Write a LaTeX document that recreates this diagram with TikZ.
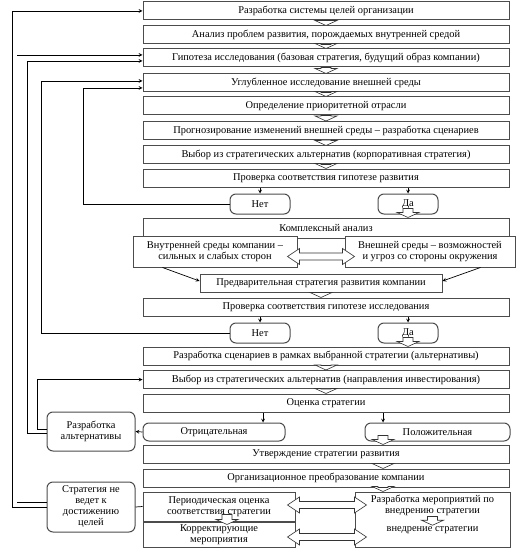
\documentclass[tikz,border=0pt]{standalone}
\usepackage{fontspec}
\setmainfont{Liberation Serif}
\usetikzlibrary{calc}

\newcommand{\tekst}{\fontsize{10.4}{11}\selectfont}
% полая стрелка вниз: от точки #1 до точки #2
\newcommand{\vstr}[2]{%
  \draw[polaja] let \p1=(#1), \p2=(#2) in
    (\x1-5pt,\y1) -- (\x1+5pt,\y1) -- (\x1+5pt,\y2+5pt) -- (\x1+11pt,\y2+5pt)
    -- (\x1,\y2) -- (\x1-11pt,\y2+5pt) -- (\x1-5pt,\y2+5pt) -- cycle;}
% полая двусторонняя стрелка: от точки #1 до точки #2
\newcommand{\hstr}[2]{%
  \draw[polaja] let \p1=(#1), \p2=(#2) in
    (\x1,\y1) -- (\x1+12pt,\y1+8pt) -- (\x1+12pt,\y1+3.5pt) -- (\x2-12pt,\y1+3.5pt)
    -- (\x2-12pt,\y1+8pt) -- (\x2,\y1) -- (\x2-12pt,\y1-8pt) -- (\x2-12pt,\y1-3.5pt)
    -- (\x1+12pt,\y1-3.5pt) -- (\x1+12pt,\y1-8pt) -- cycle;}

\begin{document}
\begin{tikzpicture}[x=1pt,y=-1pt,>=stealth,
  blok/.style={draw=black!70,line width=1pt,fill=white,minimum width=366pt,
    minimum height=18pt,inner sep=1pt,font=\tekst,align=center},
  kruglyj/.style={blok,rounded corners=6pt},
  danet/.style={kruglyj,minimum width=60pt,minimum height=20pt},
  svjaz/.style={line width=0.7pt},
  polaja/.style={draw=black!80,line width=0.6pt,fill=white}]
\useasboundingbox (0,0) rectangle (520,556);
% основная цепочка этапов
\node[blok] (b1) at (326,11) {Разработка системы целей организации};
\node[blok] (b2) at (326,35) {Анализ проблем развития, порождаемых внутренней средой};
\node[blok] (b3) at (326,58) {Гипотеза исследования (базовая стратегия, будущий образ компании)};
\node[blok] (b4) at (326,83) {Углубленное исследование внешней среды};
\node[blok] (b5) at (326,106) {Определение приоритетной отрасли};
\node[blok] (b6) at (326,130.5) {Прогнозирование изменений внешней среды – разработка сценариев};
\node[blok] (b7) at (326,155) {Выбор из стратегических альтернатив (корпоративная стратегия)};
\node[blok] (b8) at (326,178) {Проверка соответствия гипотезе развития};
\node[danet] (net1) at (260,204) {Нет};
\node[danet] (da1) at (408,204) {Да};
% комплексный анализ
\node[blok,minimum height=20pt] (kompl) at (326,228) {Комплексный анализ};
\node[blok,minimum width=164pt,minimum height=31pt] (vnutr) at (215,251.5) {Внутренней среды компании –\\сильных и слабых сторон};
\node[blok,minimum width=170pt,minimum height=31pt] (vnesh) at (430,251.5) {Внешней среды – возможностей\\и угроз со стороны окружения};
\node[blok,minimum width=242pt] (prelim) at (321,283) {Предварительная стратегия развития компании};
\node[blok] (prov) at (326,307) {Проверка соответствия гипотезе исследования};
\node[danet] (net2) at (260,333) {Нет};
\node[danet] (da2) at (408,333) {Да};
% сценарии и оценка
\node[blok] (scen) at (326,356) {Разработка сценариев в рамках выбранной стратегии (альтернативы)};
\node[blok] (invest) at (326,379.5) {Выбор из стратегических альтернатив (направления инвестирования)};
\node[blok] (ocenka) at (326,403) {Оценка стратегии};
\node[kruglyj,minimum width=142pt] (otr) at (214,432) {Отрицательная};
\node[kruglyj,minimum width=145pt] (pol) at (437.5,432) {Положительная};
\node[kruglyj,minimum width=88pt,minimum height=39pt] (razalt) at (91,431.5) {Разработка\\альтернативы};
\node[blok] (utv) at (326,454) {Утверждение стратегии развития};
\node[blok] (org) at (326,478) {Организационное преобразование компании};
% внедрение и контроль
\node[kruglyj,minimum width=88pt,minimum height=50pt] (ne) at (91,507) {Стратегия не\\ведет к\\достижению\\целей};
\node[blok,minimum width=152pt,minimum height=29pt] (period) at (219,506.5) {Периодическая оценка\\соответствия стратегии};
\node[blok,minimum width=152pt,minimum height=25pt] (korr) at (219,534.5) {Корректирующие\\мероприятия};
\node[blok,minimum width=155pt,minimum height=55pt] (razmer) at (432.5,519.5) {};
\node[font=\tekst,align=center,inner sep=1pt] (vnedr1) at (432.5,505) {Разработка мероприятий по\\внедрению стратегии};
\node[font=\tekst,inner sep=1pt] (vnedr2) at (432.5,530) {внедрение стратегии};
% тонкие стрелки
\coordinate (kO) at (263,0);
\coordinate (kP) at (383,0);
\draw[svjaz,->] (net1.north |- b8.south) -- (net1.north);
\draw[svjaz,->] (da1.north |- b8.south) -- (da1.north);
\draw[svjaz,->] (net2.north |- prov.south) -- (net2.north);
\draw[svjaz,->] (da2.north |- prov.south) -- (da2.north);
\draw[svjaz,->] ($(vnutr.south west)+(30,0)$) -- ($(prelim.west)+(0,-2)$);
\draw[svjaz,->] ($(vnesh.south east)+(-35,0)$) -- ($(prelim.east)+(0,-2)$);
\draw[svjaz,->] (ocenka.south -| kO) -- (otr.north -| kO);
\draw[svjaz,->] (ocenka.south -| kP) -- (pol.north -| kP);
\draw[svjaz,->] (otr.west) -- (razalt.east);
\draw[svjaz] (ne.east) -- (period.west);
% обратные связи слева
\coordinate (r1) at (12,0);
\coordinate (r2) at (17,0);
\coordinate (r3) at (27,0);
\coordinate (r4) at (37,0);
\coordinate (r5) at (41,0);
\coordinate (r6) at (83,0);
\draw[svjaz,->] (ne.west) -- (ne.west -| r1) |- (b1.west);
\draw[svjaz] ($(ne.west)+(0,-5)$) -- ($(ne.west -| r2)+(0,-5)$);
\draw[svjaz,->] ($(b3.west -| r2)+(0,-3)$) -- ($(b3.west)+(0,-3)$);
\draw[svjaz,->] ($(razalt.west)+(0,1.5)$) -- ($(razalt.west -| r3)+(0,1.5)$) |- ($(b3.west)+(0,3)$);
\draw[svjaz,->] ($(razalt.west)+(0,-2.5)$) -- ($(razalt.west -| r4)+(0,-2.5)$) |- (invest.west);
\draw[svjaz,->] (net2.west) -- (net2.west -| r5) |- ($(b4.west)+(0,-2)$);
\draw[svjaz,->] (net1.west) -- (net1.west -| r6) |- ($(b4.west)+(0,5)$);
% полые стрелки
\foreach \a/\b in {b1/b2,b2/b3,b3/b4,b4/b5,b5/b6,b6/b7,b7/b8,scen/invest,invest/ocenka}
  \vstr{\a.south}{\b.north};
\vstr{prelim.south}{prov.north -| prelim.south};
\vstr{$(da1.south)+(0,-6)$}{kompl.north -| da1};
\vstr{$(da2.south)+(0,-6)$}{scen.north -| da2};
\vstr{$(pol.south -| kP)+(0,-6)$}{utv.north -| kP};
\vstr{utv.south -| kP}{org.north -| kP};
\vstr{org.south -| kP}{razmer.north -| kP};
\vstr{$(period.south)+(8,-7)$}{$(korr.north)+(8,3)$};
\vstr{vnedr1.south}{vnedr2.north};
\hstr{$(vnutr.east)+(-10,5)$}{$(vnesh.west)+(10,0)$};
\hstr{$(period.east)+(-8,-1.5)$}{$(razmer.west)+(12,0)$};
\hstr{$(korr.east)+(-8,2.5)$}{$(razmer.west)+(12,0)$};
\end{tikzpicture}
\end{document}
